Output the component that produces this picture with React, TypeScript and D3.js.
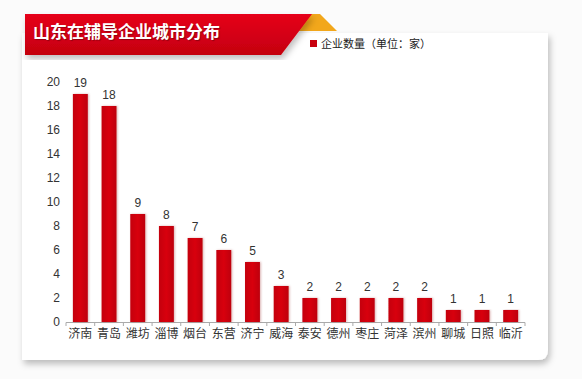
import React from "react";
import * as d3 from "d3";

const cities = ["济南", "青岛", "潍坊", "淄博", "烟台", "东营", "济宁", "威海", "泰安", "德州", "枣庄", "菏泽", "滨州", "聊城", "日照", "临沂"];
const counts = [19, 18, 9, 8, 7, 6, 5, 3, 2, 2, 2, 2, 2, 1, 1, 1];
const yTicks = [0, 2, 4, 6, 8, 10, 12, 14, 16, 18, 20];
const title = "山东在辅导企业城市分布";
const legendLabel = "企业数量（单位：家）";

const W = 582;
const H = 379;
const FONT = "'Noto Sans CJK SC', 'Noto Sans', sans-serif";
const NUMFONT = "'Liberation Sans', Arial, sans-serif";

export default function App() {
  const x = d3.scaleBand<string>().domain(cities).range([66, 525]).paddingInner(0.48).paddingOuter(0.24);
  const y = d3.scaleLinear().domain([0, 20]).range([322, 82]);
  const bounds = d3.range(cities.length + 1).map((i) => 66 + (i * (525 - 66)) / cities.length);

  return (
    <div style={{ position: "fixed", left: 0, top: 0, width: W, height: H, background: "#f6f6f6" }}>
      <svg width={W} height={H} style={{ display: "block" }}>
        <defs>
          <filter id="sh" x="-5%" y="-5%" width="112%" height="115%">
            <feDropShadow dx="2" dy="4" stdDeviation="3" floodColor="#000" floodOpacity="0.25" />
          </filter>
          <filter id="bsh" x="-30%" y="-5%" width="160%" height="110%">
            <feDropShadow dx="1" dy="0" stdDeviation="1.2" floodColor="#800" floodOpacity="0.3" />
          </filter>
          <linearGradient id="bannerG" x1="0" y1="0" x2="0" y2="1">
            <stop offset="0" stopColor="#e6001a" />
            <stop offset="1" stopColor="#c4000f" />
          </linearGradient>
          <linearGradient id="barG" x1="0" y1="0" x2="1" y2="0">
            <stop offset="0" stopColor="#c4000c" />
            <stop offset="0.5" stopColor="#d8000e" />
            <stop offset="1" stopColor="#be000a" />
          </linearGradient>
        </defs>
        <rect width={W} height={H} fill="#fbfbfb" />
        <path d="M22,33 H548 V350 Q548,360 538,360 H22 Z" fill="#ffffff" filter="url(#sh)" />
        <polygon points="296,14 320,14 337,31 289,31" fill="#f2a71b" />
        <polygon points="25,14 312,14 281,55 25,55" fill="url(#bannerG)" filter="url(#sh)" />
        <text x={33} y={38} fill="#fff" fontFamily={FONT} fontWeight="bold" fontSize={17} style={{ textShadow: "1px 1px 1px rgba(0,0,0,0.3)" }}>
          {title}
        </text>
        <rect x={310} y={40} width={7} height={7} fill="#c8000e" />
        <text x={321} y={47.5} fill="#222" fontFamily={FONT} fontSize={11}>
          {legendLabel}
        </text>
        {yTicks.map((t) => (
          <text key={t} x={60} y={y(t)} dy="0.35em" textAnchor="end" fill="#333" fontFamily={NUMFONT} fontSize={12}>
            {t}
          </text>
        ))}
        <line x1={66} x2={525} y1={322.5} y2={322.5} stroke="#aaa" />
        {bounds.map((b, i) => (
          <line key={i} x1={b} x2={b} y1={322.5} y2={326} stroke="#aaa" />
        ))}
        {cities.map((c, i) => (
          <g key={c}>
            <rect x={x(c)} y={y(counts[i])} width={x.bandwidth()} height={322 - y(counts[i])} fill="url(#barG)" filter="url(#bsh)" />
            <text x={(x(c) as number) + x.bandwidth() / 2} y={y(counts[i]) - 7} textAnchor="middle" fill="#333" fontFamily={NUMFONT} fontSize={12}>
              {counts[i]}
            </text>
            <text x={(x(c) as number) + x.bandwidth() / 2} y={338} textAnchor="middle" fill="#333" fontFamily={FONT} fontSize={12}>
              {c}
            </text>
          </g>
        ))}
      </svg>
    </div>
  );
}
